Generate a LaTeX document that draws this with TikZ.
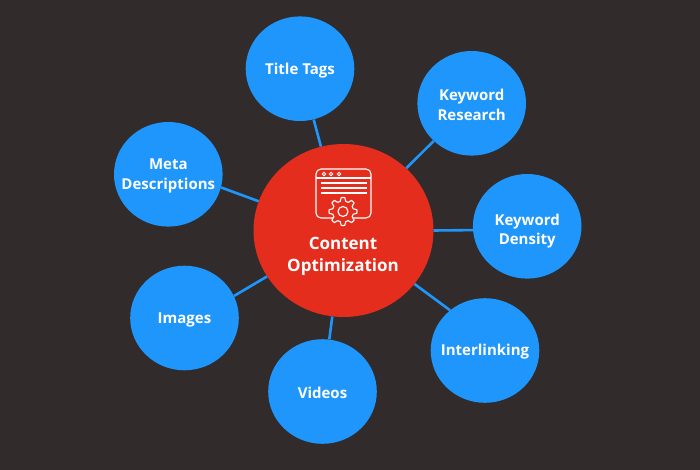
\documentclass[tikz,border=0pt]{standalone}
\usepackage{fontspec}
\setmainfont{Open Sans}
\usetikzlibrary{shapes.geometric}
\definecolor{bgdark}{HTML}{312C2B}
\definecolor{topicblue}{HTML}{1E96FC}
\definecolor{corered}{HTML}{E42D1C}
\tikzset
{
  topic/.style={ellipse,fill=topicblue,inner sep=0pt,minimum width=108.6pt,minimum height=104.6pt},
  topiclabel/.style={text=white,align=center,yshift=-1.5pt,font=\fontsize{15}{19.3}\selectfont\bfseries},
  core/.style={ellipse,fill=corered,inner sep=0pt,minimum width=180pt,minimum height=173pt},
  link/.style={draw=topicblue,line width=2.6pt},
  icon/.style={draw=white,line width=1.1pt}
}
\begin{document}
\begin{tikzpicture}[x=1pt,y=-1pt]
        % Background
        \fill[bgdark] (0, 0) rectangle (700, 470);
        \useasboundingbox (0, 0) rectangle (700, 470);

        % Topics
        \node[core] (core) at (343.5, 230.5) {};
        \node[topic,label={[topiclabel]center:Title Tags}] (title) at (300, 68.7) {};
        \node[topic,label={[topiclabel]center:{Keyword\\Research}}] (research) at (471.7, 103.3) {};
        \node[topic,label={[topiclabel,yshift=-3pt]center:{Keyword\\Density}}] (density) at (527.2, 226.3) {};
        \node[topic,label={[topiclabel]center:Interlinking}] (interlink) at (485, 350.5) {};
        \node[topic,label={[topiclabel]center:Videos}] (videos) at (322.5, 391.5) {};
        \node[topic,label={[topiclabel]center:Images}] (images) at (184.5, 318) {};
        \node[topic,label={[topiclabel]center:{Meta\\Descriptions}}] (meta) at (168.3, 174.3) {};

        % Links
        \foreach \topicname in {title,research,videos}
            \draw[link] (core) -- (\topicname);
        \foreach \topicname/\a/\b in {density/0/184,interlink/-37.5/131.4,images/211.6/24.3,meta/161.7/-14.9}
            \draw[link] (core.\a) -- (\topicname.\b);

        % Window icon
        \draw[icon,rounded corners=5pt] (316, 169) rectangle (371, 218);
        \draw[icon] (316, 178) -- (371, 178);
        \foreach \x in {324,331,339}
            \draw[icon,line width=0.9pt] (\x, 174) circle (1.8pt);
        \foreach \y in {183,188,193}
            \draw[icon] (321, \y) -- (367, \y);

        % Gear
        \draw[icon,fill=corered,line join=round] plot[samples at={0,1,...,47}] ({343+(mod(\x+1,6)<3 ? 14 : 10.5)*cos(\x*7.5)}, {211.5+(mod(\x+1,6)<3 ? 14 : 10.5)*sin(\x*7.5)}) -- cycle;
        \draw[icon] (343, 211.5) circle (5pt);

        % Title
        \node[text=white,align=center,font=\fontsize{17}{22.5}\selectfont\bfseries] (coretext) at (343, 256.5) {Content\\Optimization};
    \end{tikzpicture}
\end{document}
